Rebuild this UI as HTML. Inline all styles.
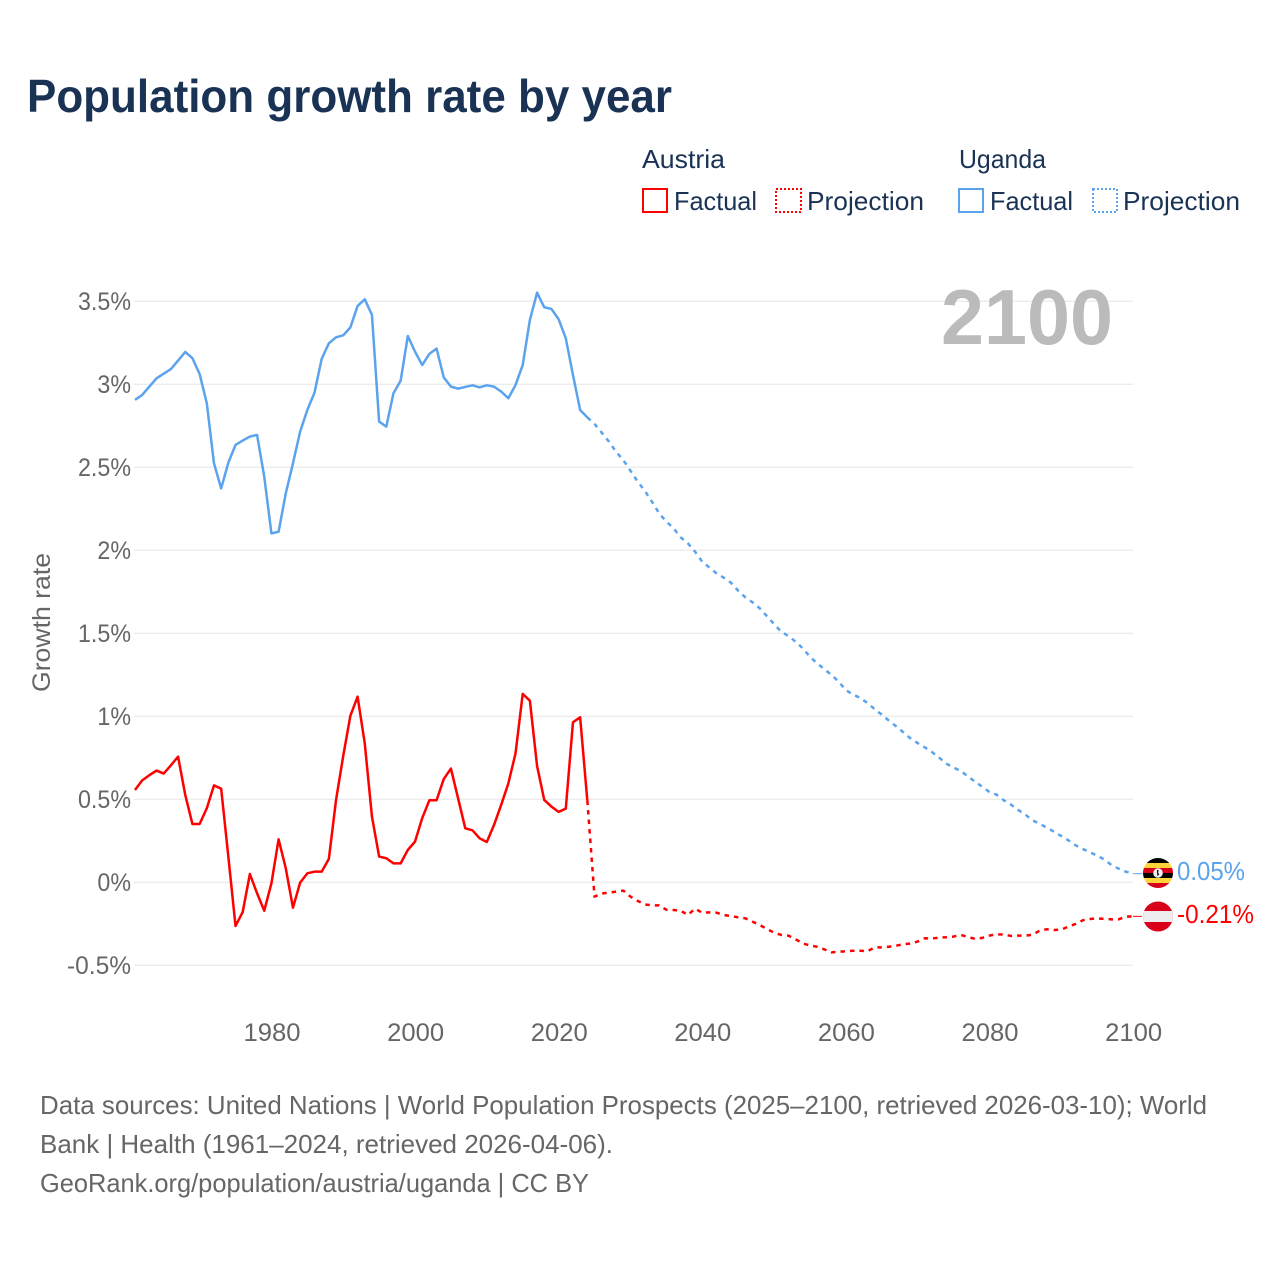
<!DOCTYPE html>
<html lang="en">
<head>
<meta charset="utf-8">
<title>Population growth rate by year</title>
<style>
html,body{margin:0;padding:0;background:#fff;}
svg{display:block;font-family:"Liberation Sans",sans-serif;}
</style>
</head>
<body>
<svg id="chart" xmlns="http://www.w3.org/2000/svg" width="1280" height="1280" viewBox="0 0 1280 1280">
  <defs>
    <clipPath id="clip-ug"><circle cx="1158" cy="873" r="15"/></clipPath>
    <clipPath id="clip-at"><circle cx="1158" cy="916.5" r="15"/></clipPath>
  </defs>
  <rect x="0" y="0" width="1280" height="1280" fill="#fff"/>

  <text x="27" y="112" font-size="46" font-weight="700" fill="#1a3355" textLength="645" lengthAdjust="spacingAndGlyphs">Population growth rate by year</text>

  <g font-size="26" fill="#1a3355">
    <text x="642" y="168" textLength="83" lengthAdjust="spacingAndGlyphs">Austria</text>
    <rect x="643" y="189" width="24" height="23" fill="none" stroke="#ff0000" stroke-width="2"/>
    <text x="674" y="210" textLength="83" lengthAdjust="spacingAndGlyphs">Factual</text>
    <rect x="776" y="189" width="25" height="23" fill="none" stroke="#ff0000" stroke-width="2" stroke-dasharray="2,2"/>
    <text x="807" y="210" textLength="117" lengthAdjust="spacingAndGlyphs">Projection</text>
    <text x="959" y="168" textLength="87" lengthAdjust="spacingAndGlyphs">Uganda</text>
    <rect x="959" y="189" width="24" height="23" fill="none" stroke="#5ba3ec" stroke-width="2"/>
    <text x="990" y="210" textLength="83" lengthAdjust="spacingAndGlyphs">Factual</text>
    <rect x="1093" y="189" width="24" height="23" fill="none" stroke="#5ba3ec" stroke-width="2" stroke-dasharray="2,2"/>
    <text x="1123" y="210" textLength="117" lengthAdjust="spacingAndGlyphs">Projection</text>
  </g>

  <g id="grid"></g>
  <g id="y-ticks"></g>
  <g id="x-ticks"></g>

  <text transform="translate(50,622.5) rotate(-90)" text-anchor="middle" font-size="25" fill="#666666" textLength="139" lengthAdjust="spacingAndGlyphs">Growth rate</text>

  <text x="941" y="344" font-size="78" font-weight="700" fill="#bbbbbb" textLength="172" lengthAdjust="spacingAndGlyphs">2100</text>

  <g id="series"></g>

  <g clip-path="url(#clip-ug)">
    <rect x="1143" y="858" width="30" height="5" fill="#000"/>
    <rect x="1143" y="863" width="30" height="5" fill="#ffd43b"/>
    <rect x="1143" y="868" width="30" height="5" fill="#d9001b"/>
    <rect x="1143" y="873" width="30" height="5" fill="#000"/>
    <rect x="1143" y="878" width="30" height="5" fill="#ffd43b"/>
    <rect x="1143" y="883" width="30" height="5" fill="#d9001b"/>
    <circle cx="1158" cy="873" r="4.8" fill="#f0f0f0"/>
    <path d="M1157 870l1.6 0-.6 3 1.4 1-1.8 2.2-.6-3z" fill="#111"/>
  </g>
  <g clip-path="url(#clip-at)">
    <rect x="1143" y="901" width="30" height="31" fill="#d9001b"/>
    <rect x="1143" y="911" width="30" height="11" fill="#eeeeee"/>
  </g>

  <g id="end-labels"></g>

  <g font-size="26" fill="#666666">
    <text x="40" y="1114" textLength="1167" lengthAdjust="spacingAndGlyphs">Data sources: United Nations | World Population Prospects (2025–2100, retrieved 2026-03-10); World</text>
    <text x="40" y="1153" textLength="573" lengthAdjust="spacingAndGlyphs">Bank | Health (1961–2024, retrieved 2026-04-06).</text>
    <text x="40" y="1192" textLength="549" lengthAdjust="spacingAndGlyphs">GeoRank.org/population/austria/uganda | CC BY</text>
  </g>
</svg>

<script>
const factualYears = [1961,1962,1963,1964,1965,1966,1967,1968,1969,1970,1971,1972,1973,1974,1975,1976,1977,1978,1979,1980,1981,1982,1983,1984,1985,1986,1987,1988,1989,1990,1991,1992,1993,1994,1995,1996,1997,1998,1999,2000,2001,2002,2003,2004,2005,2006,2007,2008,2009,2010,2011,2012,2013,2014,2015,2016,2017,2018,2019,2020,2021,2022,2023,2024];
const projectionYears = [2024,2025,2026,2027,2028,2029,2030,2031,2032,2033,2034,2035,2036,2037,2038,2039,2040,2041,2042,2043,2044,2045,2046,2047,2048,2049,2050,2051,2052,2053,2054,2055,2056,2057,2058,2059,2060,2061,2062,2063,2064,2065,2066,2067,2068,2069,2070,2071,2072,2073,2074,2075,2076,2077,2078,2079,2080,2081,2082,2083,2084,2085,2086,2087,2088,2089,2090,2091,2092,2093,2094,2095,2096,2097,2098,2099,2100];

const ugandaFactual = [2.906,2.936,2.986,3.036,3.064,3.092,3.143,3.195,3.157,3.062,2.886,2.524,2.373,2.528,2.635,2.661,2.685,2.695,2.444,2.102,2.112,2.343,2.524,2.715,2.845,2.95,3.153,3.247,3.283,3.295,3.343,3.472,3.512,3.418,2.775,2.745,2.946,3.022,3.291,3.197,3.116,3.183,3.215,3.042,2.986,2.974,2.984,2.994,2.982,2.994,2.986,2.956,2.916,2.996,3.116,3.388,3.552,3.464,3.454,3.392,3.277,3.056,2.845,2.801];

const ugandaProjection = [2.801,2.761,2.709,2.655,2.594,2.544,2.48,2.414,2.359,2.293,2.223,2.173,2.133,2.078,2.042,1.992,1.932,1.896,1.861,1.835,1.805,1.757,1.717,1.687,1.651,1.604,1.556,1.51,1.484,1.45,1.41,1.359,1.319,1.285,1.249,1.209,1.159,1.13,1.112,1.08,1.044,1.01,0.974,0.94,0.904,0.867,0.839,0.813,0.785,0.751,0.715,0.691,0.671,0.639,0.606,0.576,0.544,0.528,0.494,0.468,0.436,0.408,0.373,0.353,0.329,0.305,0.279,0.253,0.223,0.201,0.181,0.161,0.137,0.104,0.082,0.064,0.052];

const austriaFactual = [0.556,0.614,0.645,0.673,0.655,0.705,0.757,0.526,0.351,0.351,0.446,0.584,0.564,0.155,-0.263,-0.179,0.05,-0.066,-0.171,-0.006,0.259,0.084,-0.153,-0.002,0.054,0.064,0.064,0.141,0.496,0.761,1.004,1.118,0.837,0.396,0.155,0.145,0.114,0.114,0.195,0.245,0.386,0.494,0.494,0.622,0.685,0.506,0.325,0.313,0.265,0.243,0.345,0.466,0.596,0.777,1.135,1.094,0.701,0.496,0.456,0.424,0.444,0.964,0.994,0.492];

const austriaProjection = [0.492,-0.086,-0.068,-0.062,-0.056,-0.05,-0.086,-0.112,-0.133,-0.139,-0.139,-0.165,-0.167,-0.171,-0.197,-0.159,-0.183,-0.181,-0.183,-0.197,-0.203,-0.211,-0.217,-0.237,-0.257,-0.281,-0.303,-0.317,-0.321,-0.343,-0.369,-0.38,-0.388,-0.404,-0.422,-0.418,-0.416,-0.412,-0.412,-0.416,-0.392,-0.392,-0.388,-0.382,-0.373,-0.369,-0.357,-0.337,-0.339,-0.333,-0.331,-0.327,-0.317,-0.329,-0.341,-0.335,-0.321,-0.313,-0.315,-0.323,-0.321,-0.321,-0.317,-0.291,-0.283,-0.287,-0.285,-0.267,-0.251,-0.229,-0.221,-0.217,-0.221,-0.223,-0.223,-0.207,-0.205];

const yTickValues = [-0.5,0,0.5,1,1.5,2,2.5,3,3.5];
const yTickLabels = ["-0.5%","0%","0.5%","1%","1.5%","2%","2.5%","3%","3.5%"];
const xTickValues = [1980,2000,2020,2040,2060,2080,2100];
const xTickLabels = ["1980","2000","2020","2040","2060","2080","2100"];
const endLabelUganda = "0.05%";
const endLabelAustria = "-0.21%";

const NS = "http://www.w3.org/2000/svg";
const RED = "#ff0000";
const BLUE = "#5ba3ec";
function xScale(year){ return 135 + (year - 1961) * (998 / 139); }
function yScale(v){ return 882.3 - v * 166; }
function pathFrom(years, values){
  return values.map(function(v, i){
    return (i ? "L" : "M") + xScale(years[i]).toFixed(2) + " " + yScale(v).toFixed(2);
  }).join("");
}
function mk(tag, parentId){
  const el = document.createElementNS(NS, tag);
  document.getElementById(parentId).appendChild(el);
  return el;
}

yTickValues.forEach(function(v, i){
  const line = mk("line", "grid");
  
  
  line.setAttribute("x1", 134);
  line.setAttribute("x2", 1133);
  line.setAttribute("y1", yScale(v));
  line.setAttribute("y2", yScale(v));
  line.setAttribute("stroke", "#e6e6e6");
  line.setAttribute("stroke-width", 1);

  const label = mk("text", "y-ticks");
  
  
  label.setAttribute("x", 131);
  label.setAttribute("y", yScale(v) + 8.5);
  label.setAttribute("text-anchor", "end");
  label.setAttribute("font-size", 25);
  label.setAttribute("fill", "#666666");
  label.textContent = yTickLabels[i];
  const tickRatio = yTickLabels[i].charAt(0) === "-" ? 0.98 : 0.93;
  label.setAttribute("textLength", (label.getComputedTextLength() * tickRatio).toFixed(1));
  label.setAttribute("lengthAdjust", "spacingAndGlyphs");
});

xTickValues.forEach(function(year, i){
  const label = mk("text", "x-ticks");
  
  
  label.setAttribute("x", xScale(year) + 0.6);
  label.setAttribute("y", 1041);
  label.setAttribute("text-anchor", "middle");
  label.setAttribute("font-size", 25);
  label.setAttribute("fill", "#666666");
  label.setAttribute("textLength", 57);
  label.setAttribute("lengthAdjust", "spacingAndGlyphs");
  label.textContent = xTickLabels[i];
});

const lineUgandaFactual = mk("path", "series");


lineUgandaFactual.setAttribute("d", pathFrom(factualYears, ugandaFactual));
lineUgandaFactual.setAttribute("stroke", BLUE);

const lineUgandaProjection = mk("path", "series");


lineUgandaProjection.setAttribute("d", pathFrom(projectionYears, ugandaProjection));
lineUgandaProjection.setAttribute("stroke", BLUE);
lineUgandaProjection.setAttribute("stroke-dasharray", "4.5,5");

const lineAustriaFactual = mk("path", "series");


lineAustriaFactual.setAttribute("d", pathFrom(factualYears, austriaFactual));
lineAustriaFactual.setAttribute("stroke", RED);

const lineAustriaProjection = mk("path", "series");


lineAustriaProjection.setAttribute("d", pathFrom(projectionYears, austriaProjection));
lineAustriaProjection.setAttribute("stroke", RED);
lineAustriaProjection.setAttribute("stroke-dasharray", "4.5,5");

[lineUgandaFactual, lineUgandaProjection, lineAustriaFactual, lineAustriaProjection].forEach(function(p){
  p.setAttribute("fill", "none");
  p.setAttribute("stroke-width", 2.5);
  p.setAttribute("stroke-linejoin", "round");
});

const connectorUganda = mk("line", "series");


connectorUganda.setAttribute("x1", xScale(2100));
connectorUganda.setAttribute("x2", 1142);
connectorUganda.setAttribute("y1", yScale(ugandaProjection[ugandaProjection.length - 1]));
connectorUganda.setAttribute("y2", yScale(ugandaProjection[ugandaProjection.length - 1]));
connectorUganda.setAttribute("stroke", BLUE);
connectorUganda.setAttribute("stroke-width", 1);

const connectorAustria = mk("line", "series");


connectorAustria.setAttribute("x1", xScale(2100));
connectorAustria.setAttribute("x2", 1142);
connectorAustria.setAttribute("y1", yScale(austriaProjection[austriaProjection.length - 1]));
connectorAustria.setAttribute("y2", yScale(austriaProjection[austriaProjection.length - 1]));
connectorAustria.setAttribute("stroke", RED);
connectorAustria.setAttribute("stroke-width", 1);

const labelUganda = mk("text", "end-labels");


labelUganda.setAttribute("x", 1177);
labelUganda.setAttribute("y", 880);
labelUganda.setAttribute("font-size", 26);
labelUganda.setAttribute("fill", BLUE);
labelUganda.setAttribute("textLength", 68);
labelUganda.setAttribute("lengthAdjust", "spacingAndGlyphs");
labelUganda.textContent = endLabelUganda;

const labelAustria = mk("text", "end-labels");


labelAustria.setAttribute("x", 1177);
labelAustria.setAttribute("y", 923);
labelAustria.setAttribute("font-size", 26);
labelAustria.setAttribute("fill", RED);
labelAustria.setAttribute("textLength", 77);
labelAustria.setAttribute("lengthAdjust", "spacingAndGlyphs");
labelAustria.textContent = endLabelAustria;
</script>
</body>
</html>
